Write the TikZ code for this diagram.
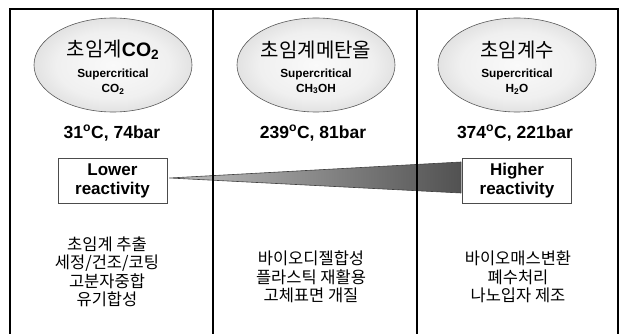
\documentclass[tikz,border=0pt]{standalone}
\usepackage{fontspec}
\setmainfont{Liberation Sans}
\newfontfamily\kr{Noto Sans CJK KR}
\usetikzlibrary{shapes.geometric}
\pgfdeclareradialshading{ellshade}{\pgfpoint{0bp}{0bp}}{color(0bp)=(black!2); color(18bp)=(black!6); color(50bp)=(black!30); color(72bp)=(black!30)}
\begin{document}
\begin{tikzpicture}[x=1pt,y=-1pt,
  frame/.style={line width=1.9pt,black},
  bubble/.style={ellipse,draw=black!65,line width=0.6pt,shading=ellshade,
    minimum width=158pt,minimum height=94pt,inner sep=0pt},
  ttl/.style={font=\kr\fontsize{20}{22}\selectfont,inner sep=0pt},
  sub/.style={font=\bfseries\fontsize{11.8}{13}\selectfont,inner sep=0pt},
  temp/.style={font=\bfseries\fontsize{17.5}{19}\selectfont,inner sep=0pt},
  rbox/.style={draw=black!70,line width=0.8pt,fill=white,align=center,minimum width=109pt,
    minimum height=45pt,inner sep=0pt,font=\bfseries\fontsize{17}{20}\selectfont},
  apps/.style={align=center,font=\kr\fontsize{16.5}{18.5}\selectfont,inner sep=0pt}]
\useasboundingbox (0,0) rectangle (622,334);
\fill[white] (0,0) rectangle (622,334);

% bubbles
\node[bubble] (b1) at (113,65) {};
\node[bubble] (b2) at (316,65) {};
\node[bubble] (b3) at (517,65) {};
\node[ttl] (t1) at (113,50) {초임계{\rmfamily\bfseries\fontsize{19.5}{20}\selectfont CO\textsubscript{2}}};
\node[ttl] (t2) at (316,50) {초임계메탄올};
\node[ttl] (t3) at (517,50) {초임계수};
\node[sub] (s1) at (113,74) {Supercritical};
\node[sub] (s2) at (316,74) {Supercritical};
\node[sub] (s3) at (517,74) {Supercritical};
\node[sub] (f1) at (113,89) {CO\textsubscript{2}};
\node[sub] (f2) at (316,89) {CH\textsubscript{3}OH};
\node[sub] (f3) at (517,89) {H\textsubscript{2}O};

% conditions
\node[temp] (c1) at (112,133) {31\textsuperscript{o}C, 74bar};
\node[temp] (c2) at (313,133) {239\textsuperscript{o}C, 81bar};
\node[temp] (c3) at (515,133) {374\textsuperscript{o}C, 221bar};

% reactivity boxes
\node[rbox] (lo) at (112.5,180.5) {Lower\\[-1pt]reactivity};
\node[rbox] (hi) at (517,180.5) {Higher\\[-1pt]reactivity};

% wedge
\shade[left color=black!25,right color=black!68]
  ([xshift=2pt,yshift=2.5pt]lo.east) -- ([xshift=-1pt,yshift=18.5pt]hi.west)
  -- ([xshift=-1pt,yshift=-12.5pt]hi.west) -- cycle;
\draw[black!75,line width=0.6pt,line join=round]
  ([xshift=2pt,yshift=2.5pt]lo.east) -- ([xshift=-1pt,yshift=18.5pt]hi.west)
  -- ([xshift=-1pt,yshift=-12.5pt]hi.west) -- cycle;

% frame
\draw[frame] (10,340) -- (10,9) -- (618,9) -- (618,340);
\draw[frame] (213,9) -- (213,340);
\draw[frame] (417,9) -- (417,340);

% applications
\node[apps] (a1) at (107,272) {초임계 추출\\세정/건조/코팅\\고분자중합\\유기합성};
\node[apps] (a2) at (311,277) {바이오디젤합성\\플라스틱 재활용\\고체표면 개질};
\node[apps] (a3) at (518,277) {바이오매스변환\\폐수처리\\나노입자 제조};
\end{tikzpicture}
\end{document}
